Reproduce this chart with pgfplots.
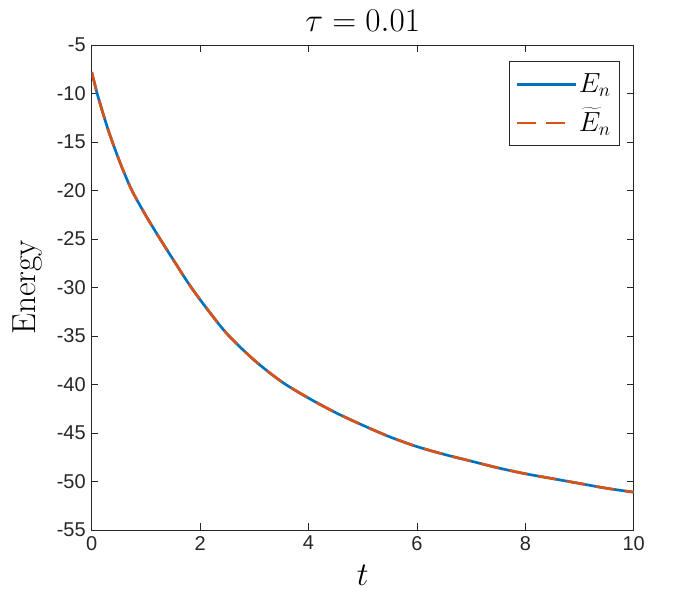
\documentclass[border=0pt]{standalone}
\usepackage{fontspec}
\usepackage{pgfplots}
\usepackage{pgfplotstable}
\pgfplotsset{compat=1.18}
\newfontfamily\tickfont{Liberation Sans}
\definecolor{mblue}{rgb}{0,0.447,0.741}
\definecolor{morange}{rgb}{0.85,0.325,0.098}
\definecolor{axgray}{rgb}{0.15,0.15,0.15}
\pgfplotstableread{
t E
0 -7.8
0.1 -10.0
0.2 -11.9
0.3 -13.7
0.4 -15.3
0.5 -16.8
0.6 -18.2
0.75 -20.1
1.0 -22.6
1.25 -24.9
1.5 -27.1
1.8 -29.7
2.1 -32.0
2.5 -34.8
3.0 -37.5
3.5 -39.7
4.0 -41.4
4.5 -42.9
5.0 -44.2
5.5 -45.4
6.0 -46.4
6.5 -47.2
7.0 -47.9
7.5 -48.6
8.0 -49.2
8.5 -49.7
9.0 -50.2
9.5 -50.7
10 -51.1
}\energy
\pgfplotstableread{
t E
0 -7.8
0.1 -10.0
0.2 -11.9
0.3 -13.7
0.4 -15.3
0.5 -16.8
0.6 -18.2
0.75 -20.1
1.0 -22.6
1.25 -24.9
1.5 -27.1
1.8 -29.7
2.1 -32.0
2.5 -34.8
3.0 -37.5
3.5 -39.7
4.0 -41.4
4.5 -42.9
5.0 -44.2
5.5 -45.4
6.0 -46.4
6.5 -47.2
7.0 -47.9
7.5 -48.6
8.0 -49.2
8.5 -49.7
9.0 -50.2
9.5 -50.7
10 -51.1
}\energytilde
\begin{document}
\begin{tikzpicture}
\path (0,0) rectangle (525pt,450pt);
\begin{axis}[
  at={(68.8pt,52.5pt)}, anchor=south west,
  scale only axis, width=406.5pt, height=363.75pt,
  xmin=0, xmax=10, ymin=-55, ymax=-5,
  xtick={0,2,4,6,8,10}, ytick={-55,-50,-45,-40,-35,-30,-25,-20,-15,-10,-5},
  tick align=inside, major tick length=5pt,
  axis line style={axgray, line width=0.6pt},
  tick style={axgray, line width=0.6pt},
  /pgf/number format/assume math mode=true,
  ticklabel style={font=\tickfont\fontsize{15}{18}\selectfont, text=axgray},
  xticklabel style={yshift=-1pt},
  yticklabel style={xshift=-1pt},
  title={$\tau=0.01$},
  title style={font=\fontsize{23}{27}\selectfont, at={(axis description cs:0.5,1.012)}, anchor=base, inner sep=0pt},
  xlabel={$t$},
  xlabel style={font=\fontsize{23}{27}\selectfont, at={(axis description cs:0.5,-0.093)}, anchor=center, inner sep=0pt},
  ylabel={Energy},
  ylabel style={font=\fontsize{25}{29}\selectfont, at={(axis description cs:-0.119,0.5)}, anchor=center, inner sep=0pt},
  legend style={at={(0.9729,0.966)}, anchor=north east,
    draw=axgray, fill=white,
    font=\fontsize{22}{26}\selectfont,
    inner xsep=4.5pt, inner ysep=4pt, row sep=3pt,
    nodes={inner sep=1.5pt, text height=17.5pt, text depth=5.5pt}},
  legend cell align=left,
  legend image code/.code={\draw[#1, line width=2pt] (0pt,0pt) -- (44pt,0pt);},
]
\addplot[mblue, line width=2pt, smooth, tension=0.5] table[x=t, y=E] {\energy};
\addlegendentry{$E_n$}
\addplot[morange, line width=2pt, smooth, tension=0.5, dash pattern=on 14pt off 8pt] table[x=t, y=E] {\energytilde};
\addlegendentry{$\widetilde{E}_n$}
\end{axis}
\end{tikzpicture}
\end{document}
